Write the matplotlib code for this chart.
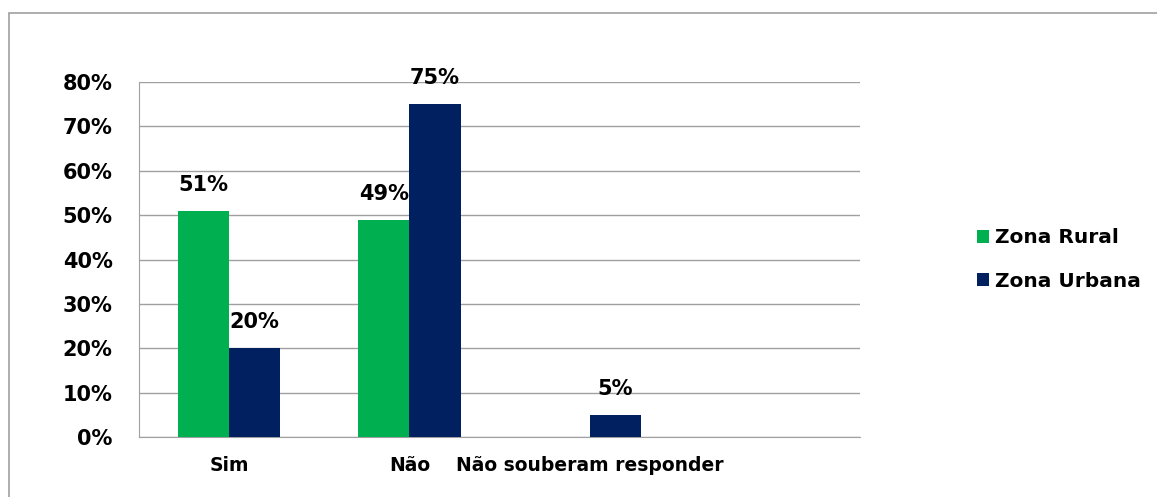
import matplotlib.pyplot as plt
import numpy as np
from matplotlib.patches import Rectangle

# data
categories = ['Sim', 'Não', 'Não souberam responder']
rural = [51, 49, None]
urbana = [20, 75, 5]
series_names = ['Zona Rural', 'Zona Urbana']
colors = ['#00B050', '#002060']
yticks = [0, 10, 20, 30, 40, 50, 60, 70, 80]

plt.rcParams['font.family'] = ['DejaVu Sans']
plt.rcParams['font.weight'] = 'bold'

fig = plt.figure(figsize=(11.57, 4.97), dpi=100)
ax = fig.add_axes([0.1201, 0.1207, 0.6232, 0.7143])

x = np.arange(len(categories))
w = 0.285
series = [rural, urbana]
offsets = [-w / 2, w / 2]
for vals, name, c, off in zip(series, series_names, colors, offsets):
    xs = [xi + off for xi, v in zip(x, vals) if v is not None]
    vs = [v for v in vals if v is not None]
    ax.bar(xs, vs, width=w, color=c, label=name, zorder=3)
    for xi, v in zip(xs, vs):
        ax.text(xi, v + 3.6, f'{v}%', ha='center', va='bottom',
                fontsize=15, fontweight='bold', zorder=4)

ax.set_xlim(-0.5, 3.5)
ax.set_ylim(0, 80)
ax.set_yticks(yticks)
ax.set_yticklabels([f'{t}%' for t in yticks], fontsize=15, fontweight='bold')
ax.set_xticks(x)
ax.set_xticklabels(categories, fontsize=13.5, fontweight='bold')
ax.tick_params(axis='both', length=0)
ax.tick_params(axis='y', pad=19)
ax.tick_params(axis='x', pad=14)
ax.yaxis.grid(True, color='#a0a0a0', linewidth=1, zorder=0)
for s in ['top', 'right']:
    ax.spines[s].set_visible(False)
for s in ['left', 'bottom']:
    ax.spines[s].set_color('#a0a0a0')

ax.legend(loc='center left', bbox_to_anchor=(1.137, 0.5), frameon=False,
          prop={'size': 14.5, 'weight': 'bold'}, handlelength=0.6,
          handleheight=0.6, handletextpad=0.3, labelspacing=1.2)

# outer chart border
fig.patches.append(Rectangle((9 / 1157, -0.01), 1.0, 1 - 13 / 497 + 0.01,
                             transform=fig.transFigure, fill=False,
                             edgecolor='#a0a0a0', linewidth=1.2))

plt.savefig('out.png', dpi=100)
